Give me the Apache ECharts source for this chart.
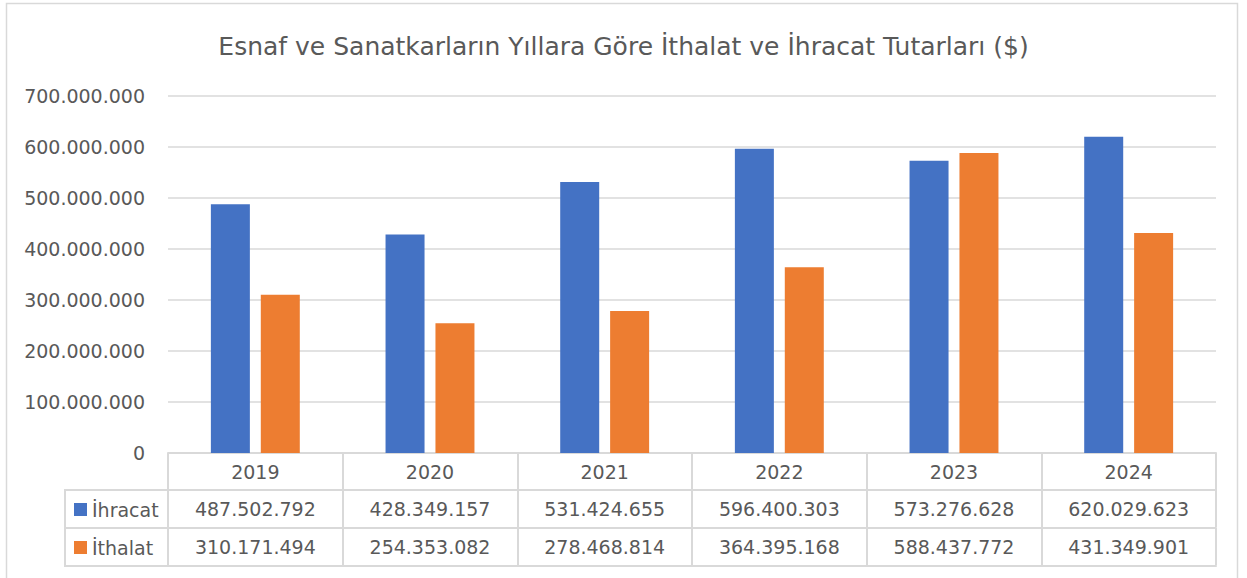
<!DOCTYPE html>
<html>
<head>
<meta charset="utf-8">
<script src="https://cdn.jsdelivr.net/npm/echarts@6/dist/echarts.min.js"></script>
<style>
    html, body { margin: 0; padding: 0; background: #fff; }
    #main { width: 1247px; height: 578px; }
</style>
</head>
<body>
<div id="main"></div>
<script>
    var years = ['2019', '2020', '2021', '2022', '2023', '2024'];
    var ihracat = [487502792, 428349157, 531424655, 596400303, 573276628, 620029623];
    var ithalat = [310171494, 254353082, 278468814, 364395168, 588437772, 431349901];
    var seriesNames = ['İhracat', 'İthalat'];
    var titleText = 'Esnaf ve Sanatkarların Yıllara Göre İthalat ve İhracat Tutarları ($)';

    var font = 'DejaVu Sans';
    var textColor = '#595959';
    var borderColor = '#d9d9d9';

    function fmt(v) {
        return String(v).replace(/\B(?=(\d{3})+(?!\d))/g, '.');
    }

    // one x axis per table row; axis line = row border, ticks = column borders
    function tableAxis(offset, labels, showTick) {
        return {
            type: 'category',
            data: years,
            position: 'bottom',
            offset: offset,
            axisLine: { show: true, lineStyle: { color: borderColor, width: 2 } },
            axisTick: { show: showTick, interval: 0, length: 37, lineStyle: { color: borderColor, width: 2 } },
            axisLabel: {
                show: !!labels,
                interval: 0,
                margin: 9,
                fontFamily: font,
                fontSize: 19,
                color: textColor,
                formatter: function (value, idx) { return labels ? labels[idx] : ''; }
            },
            splitLine: { show: false }
        };
    }

    var chart = echarts.init(document.getElementById('main'), null, { renderer: 'svg' });
    var option = {
        animation: false,
        title: {
            text: titleText,
            left: 'center',
            top: 29,
            textStyle: { fontFamily: font, fontSize: 25, fontWeight: 'normal', color: textColor }
        },
        legend: {
            data: seriesNames,
            orient: 'vertical',
            left: 69,
            top: 495,
            itemWidth: 13,
            itemHeight: 13,
            itemGap: 19,
            icon: 'rect',
            textStyle: { fontFamily: font, fontSize: 19, color: textColor, lineHeight: 19 }
        },
        grid: { left: 168, right: 31, top: 96, bottom: 125, containLabel: false },
        xAxis: [
            tableAxis(0, years, true),
            tableAxis(37, ihracat.map(fmt), true),
            tableAxis(75, ithalat.map(fmt), true),
            tableAxis(113, null, false)
        ],
        yAxis: {
            type: 'value',
            min: 0,
            max: 700000000,
            interval: 100000000,
            axisLine: { show: false },
            axisTick: { show: false },
            axisLabel: { margin: 23, fontFamily: font, fontSize: 19, color: textColor, formatter: fmt },
            splitLine: { lineStyle: { color: borderColor, width: 1.5 } }
        },
        series: [
            {
                name: seriesNames[0],
                type: 'bar',
                xAxisIndex: 0,
                data: ihracat,
                barWidth: 39,
                barGap: '28%',
                itemStyle: { color: '#4472C4' }
            },
            {
                name: seriesNames[1],
                type: 'bar',
                xAxisIndex: 0,
                data: ithalat,
                barWidth: 39,
                barGap: '28%',
                itemStyle: { color: '#ED7D31' }
            }
        ],
        graphic: [
            { type: 'rect', shape: { x: 6.5, y: 3.5, width: 1231, height: 600 }, style: { fill: 'none', stroke: borderColor, lineWidth: 1.5 }, silent: true },
            { type: 'rect', shape: { x: 65, y: 490, width: 103, height: 76 }, style: { fill: 'none', stroke: borderColor, lineWidth: 2 }, silent: true },
            { type: 'line', shape: { x1: 65, y1: 528, x2: 168, y2: 528 }, style: { stroke: borderColor, lineWidth: 2 }, silent: true }
        ]
    };
    chart.setOption(option);
</script>
</body>
</html>
